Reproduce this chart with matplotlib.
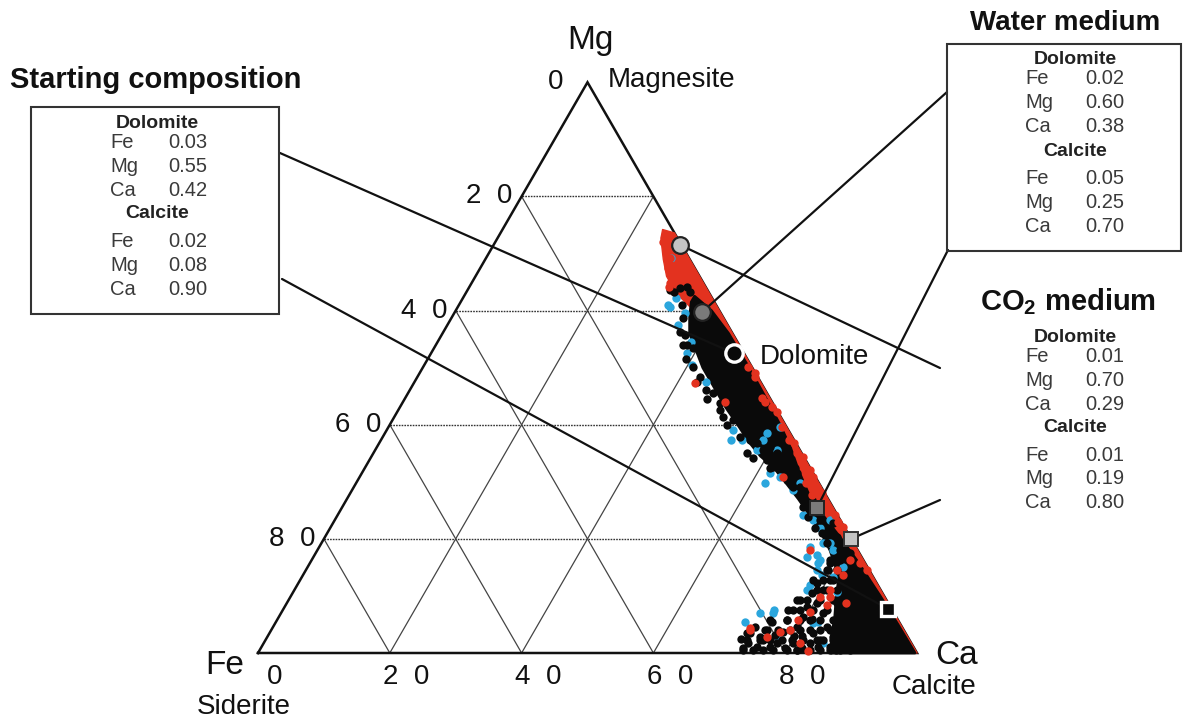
import numpy as np
import matplotlib
matplotlib.use("Agg")
import matplotlib.pyplot as plt
from matplotlib.patches import Polygon, Rectangle

plt.rcParams['font.family'] = ['Liberation Sans', 'DejaVu Sans']
plt.rcParams['mathtext.fontset'] = 'custom'
plt.rcParams['mathtext.rm'] = 'Liberation Sans'
plt.rcParams['mathtext.bf'] = 'Liberation Sans:bold'

# ---- data (mol %, Ca = 100 - Fe - Mg) ----
# dense envelopes of the analysed points
red_env_fe = [1.5, 0, 0, 5, 4, 3, 2.5, 2.2, 3.0, 3.2, 2.0, 1.5, 1.5, 1.5, 2, 3.5, 5.0, 5.0, 4.0, 3.0, 2.3]
red_env_mg = [74.2, 73.6, 0, 0, 5, 10, 15, 20, 25, 30, 35, 40, 45, 50, 55, 59, 63, 66, 69, 71.5, 73]

black_env_fe = [2.5, 1.2, 0.6, 0.5, 0.6, 0.8, 1.2, 2.0, 2.5, 2.2, 1.5, 1.0, 0.6, 0.4, 0.3,
                13.0, 11.5, 9.5, 7.8, 6.0, 4.8, 4.2, 4.0, 4.2, 4.5, 5.0, 5.5, 6.5, 7.0,
                7.2, 7.5, 7.5, 7.5, 7.0, 6.5, 5.0, 3.5]
black_env_mg = [62.5, 60, 56, 50, 45, 40, 36, 32, 28, 24, 20, 16, 10, 5, 0,
                0, 3, 6, 9, 12, 15, 18, 21, 24, 27, 30, 32.5, 34.5, 37,
                40, 43, 47, 50, 53, 56, 59, 61.5]

# scattered analyses outside the dense envelopes
red_fe = [2.0, 2.6, 2.5, 4.1, 4.4, 5.1, 10.1, 7.2, 0.6, 0.1, 0.5, 1.2, 1.1, 0.5, 0.2,
          0.7, 0.7, 0.7, 0.2, 0.3, 0.2, 0.4, 0.7, 0.4, 0.9, 0.7, 0.4, 0.5, 0.2, 4.9,
          2.0, 2.1, 23.2, 21.4, 19.0, 17.3, 15.2, 12.7, 9.8, 8.3, 9.5, 16.4, 4.4, 2.0,
          0.8, 0.3, 6.3, 16.9, 23.3, 7.2, 7.7, 4.9, 2.9, 5.5, 3.5]
red_mg = [72.7, 72.0, 70.6, 67.4, 65.7, 64.8, 47.3, 44.0, 50.1, 49.0, 48.3, 44.7, 44.0, 43.1, 42.2,
          39.6, 37.3, 35.0, 34.3, 36.8, 32.0, 30.8, 29.1, 28.0, 26.3, 25.0, 24.2, 22.9, 22.1, 30.8,
          29.8, 27.7, 4.4, 2.8, 3.7, 4.0, 5.8, 7.2, 9.8, 9.8, 8.4, 0.4, 13.7, 16.3,
          15.8, 14.5, 8.8, 1.8, 4.0, 18.0, 11.0, 14.5, 69.2, 64.2, 68.0]

blue_fe = [7.2, 7.4, 7.6, 5.5, 7.0, 2.8, 5.4, 8.7, 9.0, 8.2, 9.5, 7.9, 8.4, 4.7, 6.5,
           3.5, 3.5, 1.0, 6.6, 8.2, 5.4, 2.9, 4.6, 5.2, 4.2, 3.8, 1.6, 7.0, 4.6, 3.7,
           6.6, 8.3, 23.4, 20.3, 18.4, 10.3, 7.1, 7.5, 6.1, 3.7, 6.8, 13.4, 13.2, 19.8, 12.3,
           18.0, 7.9, 6.6, 11.2, 3.6]
blue_mg = [60.6, 60.9, 57.4, 59.5, 54.5, 69.2, 62.2, 52.5, 50.4, 47.5, 37.3, 37.3, 39.1, 37.3, 35.6,
           35.6, 38.5, 39.6, 31.5, 29.8, 30.8, 29.8, 28.5, 24.2, 23.3, 21.9, 23.3, 18.6, 19.3, 18.0,
           17.2, 16.8, 5.4, 7.0, 7.0, 11.9, 15.8, 13.7, 13.3, 15.1, 10.7, 1.8, 5.3, 2.6, 5.4,
           7.5, 14.5, 16.3, 11.0, 19.3]

black_fe = [5.7, 5.2, 4.0, 2.9, 2.9, 5.2, 6.2, 7.9, 8.6, 7.3, 7.4,
            8.0, 9.0, 8.8, 9.7, 8.9, 8.0, 8.8, 8.9, 7.5, 8.0, 6.7, 8.3, 7.8, 5.6, 5.2, 3.7, 6.1, 3.5, 2.3,
            5.9, 5.6, 4.3, 3.8, 5.9, 5.6, 3.5, 3.0, 2.5, 4.6, 3.2, 4.3, 4.5, 4.6, 3.1, 2.5, 4.6, 2.4,
            2.0, 2.7, 1.4, 4.0, 1.4, 3.9,
            24.8, 23.7, 22.2, 21.8, 20.4, 19.6, 17.9, 17.0, 15.4, 23.6, 22.4, 22.3, 19.3, 21.0, 18.5,
            16.8, 15.9, 14.2, 12.7, 15.1, 13.1, 10.7, 10.8, 10.8, 9.1, 8.8, 6.8, 6.3, 5.3, 14.0, 13.6,
            11.4, 11.4, 12.7, 9.1, 7.8, 26.0, 25.5, 18.0, 16.0, 14.5, 12.0, 10.0, 13.0, 17.2, 20.0, 24.0,
            26.2, 24.6, 23.1, 21.6, 19.5, 17.9, 16.0, 14.5, 12.9, 11.4, 9.9,
            24.7, 22.7, 21.2, 19.3, 17.8, 16.2, 14.0, 13.1, 11.6,
            20.7, 19.1, 17.2, 15.7, 14.2, 12.7, 11.2,
            19.4, 16.8, 14.9, 13.4, 11.8, 9.9,
            15.9, 14.0, 12.0, 9.9, 13.6, 12.0, 10.1, 8.1,
            9.7, 8.2, 6.6, 9.4, 7.9, 6.4, 6.4, 4.9, 5.1, 3.5,
            9.3, 9.6, 8.6, 8.2]
black_mg = [63.6, 63.2, 63.9, 64.1, 63.2, 60.9, 58.7, 56.2, 53.9, 53.4, 55.7,
            53.9, 50.1, 48.3, 47.5, 46.1, 43.8, 41.3, 39.9, 40.8, 37.8, 37.3, 35.0, 34.2, 35.0, 33.3, 34.2, 32.4, 32.6, 32.4,
            36.8, 35.6, 36.1, 35.0, 33.8, 32.6, 33.8, 32.6, 31.5, 30.3, 29.1, 29.1, 25.6, 23.8, 23.3, 26.8, 21.9, 21.5,
            20.3, 18.0, 17.5, 19.3, 22.8, 21.0,
            1.8, 1.1, 2.3, 1.1, 1.8, 0.9, 1.8, 0.9, 1.8, 3.5, 2.8, 4.6, 5.4, 4.0, 3.7,
            5.8, 4.6, 6.3, 8.1, 7.5, 9.3, 10.5, 8.8, 7.0, 12.3, 11.0, 12.8, 14.5, 15.8, 3.5, 2.3,
            4.6, 2.8, 1.1, 5.8, 8.8, 0.8, 2.5, 0.5, 3.0, 1.0, 0.5, 1.5, 6.0, 3.0, 3.2, 3.5,
            0.5, 0.5, 0.5, 0.5, 0.5, 0.5, 0.5, 0.5, 0.5, 0.5, 0.5,
            2.3, 2.3, 2.3, 2.3, 2.3, 2.3, 2.3, 2.3, 2.3,
            4.0, 4.0, 4.0, 4.0, 4.0, 4.0, 4.0,
            5.8, 5.8, 5.8, 5.8, 5.8, 5.8,
            7.5, 7.5, 7.5, 7.5, 9.3, 9.3, 9.3, 9.3,
            11.0, 11.0, 11.0, 12.8, 12.8, 12.8, 14.5, 14.5, 16.3, 16.3,
            51.5, 44.5, 42.5, 45.5]

# positions of the mean compositions as plotted
# order: CO2 dolomite, water dolomite, starting dolomite, water calcite, CO2 calcite, starting calcite
mean_fe = [0.2, 2.8, 1.5, 2.5, 0.0, 0.5]
mean_mg = [71.5, 59.7, 52.5, 25.4, 20.0, 7.7]

# tables
elements = ['Fe', 'Mg', 'Ca']
start_dol = [0.03, 0.55, 0.42]
start_cal = [0.02, 0.08, 0.90]
water_dol = [0.02, 0.60, 0.38]
water_cal = [0.05, 0.25, 0.70]
co2_dol = [0.01, 0.70, 0.29]
co2_cal = [0.01, 0.19, 0.80]

grid_levels = [20, 40, 60, 80]
left_ticks_mg = [100, 80, 60, 40, 20]
left_tick_labels = ['0', '2  0', '4  0', '6  0', '8  0']
bottom_ticks_ca = [0, 20, 40, 60, 80]
bottom_tick_labels = ['0', '2  0', '4  0', '6  0', '8  0']

# ---- layout ----
W, H = 1183, 721
FE_PX, BASE_PX, SIDE_PX = 258, 653, 659


def tern(fe, mg):
    fe = np.asarray(fe, float) / 100
    mg = np.asarray(mg, float) / 100
    return 1 - fe - mg / 2, mg * np.sqrt(3) / 2


def fig_xy(px, py):
    return px / W, 1 - py / H


fig = plt.figure(figsize=(W / 100, H / 100), dpi=100)
ax = fig.add_axes([0, 0, 1, 1])
ax.set_xlim(-FE_PX / SIDE_PX, (W - FE_PX) / SIDE_PX)
ax.set_ylim(-(H - BASE_PX) / SIDE_PX, BASE_PX / SIDE_PX)
ax.axis('off')

# grid
for v in grid_levels:
    ax.plot(*tern([100 - v, 0], [v, v]), color='#333333', lw=1.0, ls=(0, (1.2, 0.8)), zorder=1)
    ax.plot(*tern([100 - v, 0], [0, 100 - v]), color='#444444', lw=0.9, zorder=1)
    ax.plot(*tern([v, v], [0, 100 - v]), color='#444444', lw=0.9, zorder=1)

# triangle
ax.plot(*tern([100, 0, 0, 100], [0, 0, 100, 0]), color='#111111', lw=1.8, zorder=2,
        solid_joinstyle='miter')

# analyses
red_c, blue_c, black_c = '#e3321f', '#2ba6dd', '#0a0a0a'
dot = 36
rx, ry = tern(red_env_fe, red_env_mg)
ax.add_patch(Polygon(np.column_stack([rx, ry]), closed=True, fc=red_c, ec=red_c,
                     lw=1.0, joinstyle='round', zorder=3))
bx, by = tern(black_env_fe, black_env_mg)
ax.add_patch(Polygon(np.column_stack([bx, by]), closed=True, fc=black_c, ec=black_c,
                     lw=2.0, joinstyle='round', zorder=3.2))
ax.scatter(*tern(blue_fe, blue_mg), s=dot, c=blue_c, linewidths=0, zorder=3.4)
ax.scatter(*tern(black_fe, black_mg), s=dot, c=black_c, linewidths=0, zorder=3.6)
ax.scatter(*tern(red_fe, red_mg), s=dot, c=red_c, linewidths=0, zorder=3.8)

# connector lines from the means to the tables
link_px = [(940, 368), (947, 92), (280, 153), (948, 250), (940, 500), (282, 279)]
for fe, mg, (px, py) in zip(mean_fe, mean_mg, link_px):
    x, y = tern(fe, mg)
    ax.annotate('', xy=(float(x), float(y)), xycoords='data', xytext=fig_xy(px, py),
                textcoords='figure fraction',
                arrowprops=dict(arrowstyle='-', lw=1.6, color='#111111', shrinkA=0, shrinkB=0),
                zorder=6)

# mean markers
mk = [('o', 12, '#c4c4c4', '#222222', 1.6),
      ('o', 12, '#7a7a7a', '#222222', 1.6),
      ('o', 12.5, '#0a0a0a', 'white', 2.4),
      ('s', 9.5, '#7a7a7a', '#222222', 1.4),
      ('s', 9.5, '#c4c4c4', '#333333', 1.4),
      ('s', 9.5, '#0a0a0a', 'white', 2.4)]
for fe, mg, (m, ms, fc, ec, mew) in zip(mean_fe, mean_mg, mk):
    ax.plot(*tern([fe], [mg]), marker=m, ms=ms, mfc=fc, mec=ec, mew=mew, ls='none', zorder=7)

# tick labels
for mg, lab in zip(left_ticks_mg, left_tick_labels):
    ax.annotate(lab, xy=tern(100 - mg, mg), xytext=(-23, 0), textcoords='offset points',
                ha='center', va='center', fontsize=20, color='#111111')
for ca, lab in zip(bottom_ticks_ca, bottom_tick_labels):
    ax.annotate(lab, xy=tern(100 - ca, 0), xytext=(12, -17), textcoords='offset points',
                ha='center', va='center', fontsize=20, color='#111111')

# vertex and mineral labels
fig.text(*fig_xy(590, 40), 'Mg', fontsize=24, ha='center', va='center', color='#111111')
fig.text(*fig_xy(608, 80), 'Magnesite', fontsize=20, ha='left', va='center', color='#111111')
fig.text(*fig_xy(225, 665), 'Fe', fontsize=24, ha='center', va='center', color='#111111')
fig.text(*fig_xy(197, 707), 'Siderite', fontsize=20, ha='left', va='center', color='#111111')
fig.text(*fig_xy(957, 655), 'Ca', fontsize=24, ha='center', va='center', color='#111111')
fig.text(*fig_xy(934, 687), 'Calcite', fontsize=20, ha='center', va='center', color='#111111')
fig.text(*fig_xy(760, 357), 'Dolomite', fontsize=20, ha='left', va='center', color='#111111')

# tables
fig.text(*fig_xy(10, 80), 'Starting composition', fontsize=21, fontweight='bold',
         ha='left', va='center', color='#111111')
fig.text(*fig_xy(1065, 23), 'Water medium', fontsize=20, fontweight='bold',
         ha='center', va='center', color='#111111')
fig.text(*fig_xy(1068, 302), r'CO$_{\mathbf{2}}$ medium', fontsize=21, fontweight='bold',
         ha='center', va='center', color='#111111')

for (x0, y0, x1, y1) in [(31, 107, 279, 314), (947, 44, 1181, 251)]:
    fig.add_artist(Rectangle(fig_xy(x0, y1), (x1 - x0) / W, (y1 - y0) / H,
                             transform=fig.transFigure, fill=False, ec='#333333', lw=1.5))

row_dy = [0, 19, 43, 67, 91, 118, 142, 166]
tables = [(157, 110, 168, 123, start_dol, start_cal),
          (1075, 1025, 1085, 60, water_dol, water_cal),
          (1075, 1025, 1085, 337, co2_dol, co2_cal)]
for cx, lx, vx, y0, dol, cal in tables:
    fig.text(*fig_xy(cx, y0 + row_dy[0]), 'Dolomite', fontsize=14, fontweight='bold',
             ha='center', va='center', color='#222222')
    fig.text(*fig_xy(cx, y0 + row_dy[4]), 'Calcite', fontsize=14, fontweight='bold',
             ha='center', va='center', color='#222222')
    for k, (el, a, b) in enumerate(zip(elements, dol, cal)):
        for dy, val in ((row_dy[1 + k], a), (row_dy[5 + k], b)):
            fig.text(*fig_xy(lx, y0 + dy), el, fontsize=14.5, ha='left', va='center',
                     color='#3a3a3a')
            fig.text(*fig_xy(vx, y0 + dy), f'{val:.2f}', fontsize=14.5, ha='left',
                     va='center', color='#3a3a3a')

fig.savefig('out.png', dpi=100)
